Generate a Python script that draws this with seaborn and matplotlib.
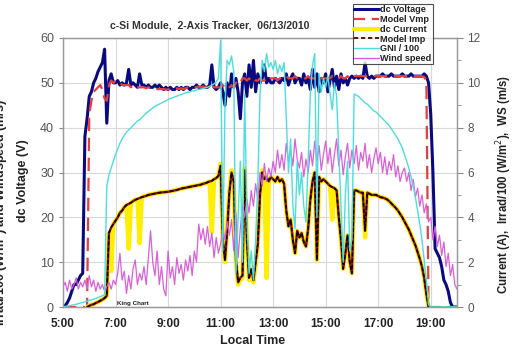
import matplotlib
matplotlib.use("Agg")
import matplotlib.pyplot as plt
import seaborn as sns
import numpy as np
import pandas as pd
from matplotlib.lines import Line2D
from matplotlib.ticker import MultipleLocator, FixedLocator

# ---------------- data (5-minute readings, 5:00 .. 20:00) ----------------
N = None
dc_voltage = [
    0, 0.3, 1, 2, 3.5, 5, 5, 6, 7, 7.5, 38, 42,                       # 5h
    47, 48, 50, 51, 52.5, 53.5, 54.5, 57.5, 41, 50.5, 52, 50,         # 6h
    50, 50.5, 49.5, 50, 49.5, 50, 53, 49.5, 50, 49.5, 49, 52,         # 7h
    49.5, 49.5, 49, 49.5, 49, 49, 49.5, 49, 49.5, 49, 48.5, 49,       # 8h
    48.5, 49, 48.5, 48.5, 49, 48.5, 49, 48.5, 49, 49, 48.5, 49,       # 9h
    49, 49.5, 49, 49, 49.5, 49, 49, 49.5, 54, 49, 48.5, 49,           # 10h
    50, 48, 45, 50, 47, 52, 49, 51, 48, 42, 50, 52,                   # 11h
    47, 54, 49, 55, 48, 52, 50, 51, 54, 50, 51, 50,                   # 12h
    50, 51, 50.5, 50, 51, 50.5, 52, 49.5, 51, 52, 50, 51,             # 13h
    51, 49.5, 52, 50, 51, 48.5, 53, 49, 52, 48, 51, 50,               # 14h
    52, 48, 50.5, 53, 49, 51.5, 48.5, 52, 50, 51, 49.5, 51,           # 15h
    51.5, 51, 51.5, 51, 51.5, 51, 54.5, 51.5, 51, 51.5, 51, 51.5,     # 16h
    51.5, 51.5, 52, 51.5, 51.5, 51.5, 52, 51.5, 51.5, 51.5, 51.5, 52, # 17h
    51.5, 51.5, 51.5, 52, 51.5, 51.5, 51.5, 51.5, 51.5, 52, 51.5, 50, # 18h
    43, 30, 13, 12, 11, 9, 6, 5, 3.5, 1, 0, 0,                        # 19h
    0]
model_vmp = [
    0, 0, 0, 0, 0, 0, 0, 0, 0, 0, 0, 0,
    43, 46, 48, 48.5, 49, 49.5, 48.5, 46.5, 46, 49.5, 50.5, 50,
    50.5, 50, 50, 49.5, 49.5, 49.5, 49.5, 49, 49.5, 49, 49, 49,
    49, 49, 48.8, 49, 48.8, 48.8, 48.8, 48.6, 48.6, 48.6, 48.6, 48.5,
    48.5, 48.7, 48.5, 48.6, 48.8, 48.6, 48.8, 48.6, 48.8, 49, 48.8, 49,
    49, 49, 49.2, 49, 49.2, 49, 49, 49.2, 49.5, 49, 49, 49,
    49, 49.5, 49, 48.5, 49, 49.5, 49, 50, 50.5, 50, 51, 51,
    50.5, 51, 50.5, 51, 50.5, 50.5, 51, 50.5, 50.5, 51, 50.5, 51,
    51, 51, 50.5, 51, 51, 51, 51.5, 51, 51, 51, 51.5, 51,
    51, 51, 51, 51, 51.5, 51, 51, 51, 51.5, 51, 51, 51,
    51, 51, 51, 51.5, 51, 51, 51, 51.5, 51, 51, 51.5, 51,
    51.5, 51.5, 51.5, 51.5, 51.5, 51.5, 51.5, 51.5, 51.5, 51.5, 51.5, 51.5,
    51.5, 51.5, 51.5, 51.5, 51.5, 51.5, 51.5, 51.5, 51.5, 51.5, 51.5, 51.5,
    51.5, 51.5, 51.5, 51.5, 51.5, 51.5, 51.5, 51.5, 51.5, 51.3, 50.5, 0,
    0, 0, 0, 0, 0, 0, 0, 0, 0, 0, 0, 0,
    0]
dc_current = [
    N, N, N, N, N, N, N, N, N, N, N, 0,
    0.05, 0.1, 0.12, 0.18, 0.22, 0.28, 0.33, 0.4, 0.5, 3.3, 1.6, 3.7,
    3.85, 4.0, 4.2, 4.3, 4.45, 4.55, 2.6, 4.65, 4.72, 4.78, 4.82, 2.85,
    4.9, 4.93, 4.96, 5.0, 5.02, 5.04, 5.06, 5.08, 5.1, 5.11, 5.12, 5.13,
    5.14, 5.16, 5.18, 5.2, 5.22, 5.25, 5.28, 5.3, 5.32, 5.34, 5.36, 5.38,
    5.4, 5.42, 5.44, 5.46, 5.5, 5.52, 5.56, 5.6, 3.35, 5.7, 5.75, 5.85,
    6.4, 3.0, 2.0, 3.5, 5.2, 6.1, 5.6, 2.0, 1.0, 1.2, 1.3, 6.2,
    3.0, 1.2, 1.6, 1.1, 1.9, 2.8, 5.0, 6.1, 5.7, 1.3, 5.6, 5.8,
    5.7, 5.6, 5.8, 5.6, 5.7, 5.5, 4.3, 3.6, 3.9, 3.0, 2.4, 3.4,
    3.1, 3.3, 2.9, 2.7, 3.5, 4.8, 5.6, 6.0, 2.1, 5.8, 5.6, 5.7,
    5.6, 5.5, 5.4, 3.9, 5.3, 5.2, 4.0, 3.0, 1.7, 2.4, 3.2, 2.0,
    1.5, 5.2, 5.2, 5.15, 5.1, 5.1, 3.1, 5.1, 5.05, 5.0, 5.0, 5.0,
    4.95, 4.9, 4.88, 4.85, 4.8, 4.72, 4.62, 4.52, 4.42, 4.3, 4.15, 4.0,
    3.82, 3.65, 3.45, 3.22, 3.0, 2.75, 2.45, 2.15, 1.8, 1.3, 0.6, 0.0,
    N, N, N, N, N, N, N, N, N, N, N, N,
    N]
model_imp = [
    N, N, N, N, N, N, N, N, N, N, N, 0,
    0.05, 0.1, 0.12, 0.18, 0.22, 0.28, 0.33, 0.4, 0.5, 3.3, 3.55, 3.7,
    3.85, 4.0, 4.2, 4.3, 4.45, 4.55, 4.6, 4.65, 4.72, 4.78, 4.82, 4.86,
    4.9, 4.93, 4.96, 5.0, 5.02, 5.04, 5.06, 5.08, 5.1, 5.11, 5.12, 5.13,
    5.14, 5.16, 5.18, 5.2, 5.22, 5.25, 5.28, 5.3, 5.32, 5.34, 5.36, 5.38,
    5.4, 5.42, 5.44, 5.46, 5.5, 5.52, 5.56, 5.6, 5.63, 5.7, 5.75, 5.85,
    6.3, 3.0, 2.1, 3.4, 5.1, 6.0, 5.6, 2.1, 1.1, 1.3, 1.4, 6.1,
    3.0, 1.3, 1.7, 1.2, 2.0, 2.8, 5.0, 6.0, 5.7, 5.8, 5.6, 5.8,
    5.7, 5.6, 5.8, 5.6, 5.7, 5.5, 4.3, 3.6, 3.9, 3.0, 2.4, 3.4,
    3.1, 3.3, 2.9, 2.7, 3.5, 4.8, 5.6, 6.0, 2.1, 5.8, 5.6, 5.7,
    5.6, 5.5, 5.4, 5.35, 5.3, 5.2, 4.0, 3.0, 1.7, 2.4, 3.2, 2.0,
    1.5, 5.2, 5.2, 5.15, 5.1, 5.1, 3.4, 5.1, 5.05, 5.0, 5.0, 5.0,
    4.95, 4.9, 4.88, 4.85, 4.8, 4.72, 4.62, 4.52, 4.42, 4.3, 4.15, 4.0,
    3.82, 3.65, 3.45, 3.22, 3.0, 2.75, 2.45, 2.15, 1.8, 1.3, 0.6, 0.0,
    N, N, N, N, N, N, N, N, N, N, N, N,
    N]
model_green = [
    N, N, N, N, N, N, N, N, N, N, N, 0,
    0.05, 0.1, 0.12, 0.18, 0.22, 0.28, 0.33, 0.4, 0.5, 3.3, 3.55, 3.7,
    3.85, 4.0, 4.2, 4.3, 4.45, 4.55, 4.6, 4.65, 4.72, 4.78, 4.82, 4.86,
    4.9, 4.93, 4.96, 5.0, 5.02, 5.04, 5.06, 5.08, 5.1, 5.11, 5.12, 5.13,
    5.14, 5.16, 5.18, 5.2, 5.22, 5.25, 5.28, 5.3, 5.32, 5.34, 5.36, 5.38,
    5.4, 5.42, 5.44, 5.46, 5.5, 5.52, 5.56, 5.6, 5.63, 5.7, 5.75, 5.85,
    6.3, 3.0, 2.1, 3.4, 5.1, 6.0, 5.6, 2.1, 1.1, 1.3, 1.4, 6.1,
    3.0, 1.3, 1.7, 1.2, 2.0, 2.8, 5.0, 6.0, 5.7, 5.8, 5.6, 5.8,
    5.7, 5.6, 5.8, 5.6, 5.7, 5.5, 4.3, 3.6, 3.9, 3.0, 2.4, 3.4,
    3.1, 3.3, 2.9, 2.7, 3.5, 4.8, 5.6, 6.0, 2.1, 5.8, 5.6, 5.7,
    5.6, 5.5, 5.4, 5.35, 5.3, 5.2, 4.0, 3.0, 1.7, 2.4, 3.2, 2.0,
    1.5, 5.2, 5.2, 5.15, 5.1, 5.1, 3.4, 5.1, 5.05, 5.0, 5.0, 5.0,
    4.95, 4.9, 4.88, 4.85, 4.8, 4.72, 4.62, 4.52, 4.42, 4.3, 4.15, 4.0,
    3.82, 3.65, 3.45, 3.22, 3.0, 2.75, 2.45, 2.15, 1.8, 1.3, 0.6, 0.0,
    0, 0, 0, 0, 0, 0, 0, 0, 0, 0, 0, 0,
    0]
gni_100 = [
    0, 0.02, 0.04, 0.06, 0.08, 0.1, 0.12, 0.15, 0.18, 0.2, 0.23, 0.26,
    0.3, 0.32, 0.35, 0.38, 0.42, 0.46, 0.5, 0.55, 5.4, 5.9, 6.2, 6.5,
    6.8, 7.05, 7.3, 7.5, 7.65, 7.8, 7.9, 8.0, 8.1, 8.2, 8.3, 8.35,
    8.45, 8.55, 8.65, 8.72, 8.8, 8.88, 8.95, 9.0, 9.05, 9.1, 9.15, 9.2,
    9.25, 9.3, 9.33, 9.37, 9.4, 9.45, 9.48, 9.52, 9.55, 9.58, 9.6, 9.63,
    9.65, 9.68, 9.7, 9.72, 9.75, 9.78, 9.8, 9.85, 9.9, 9.95, 10.05, 10.2,
    11.9, 2.5, 9.0, 11.0, 10.8, 11.2, 10.5, 1.5, 4.0, 6.5, 2.0, 9.5,
    4.0, 1.5, 2.5, 1.2, 3.0, 5.5, 9.5, 11.0, 10.5, 11.3, 10.7, 10.9,
    10.6, 11.0, 10.4, 10.8, 10.5, 10.9, 8.5, 6.0, 7.5, 4.5, 3.5, 6.5,
    5.0, 6.0, 4.5, 3.8, 6.5, 9.5, 10.8, 11.3, 4.0, 10.4, 9.6, 10.2,
    9.8, 10.3, 9.5, 8.8, 10.0, 9.4, 7.0, 4.5, 2.0, 5.0, 6.5, 2.5,
    3.0, 9.5, 9.45, 9.4, 9.3, 9.2, 9.1, 9.05, 8.95, 8.85, 8.75, 8.7,
    8.6, 8.5, 8.4, 8.3, 8.2, 8.1, 7.95, 7.8, 7.65, 7.5, 7.3, 7.1,
    6.8, 6.5, 6.2, 5.8, 5.4, 4.9, 4.3, 3.7, 3.0, 2.1, 1.2, 0.1,
    0, 0, 0, 0, 0, 0, 0, 0, 0, 0, 0, 0,
    0]
wind_speed = [
    0.9, 1.1, 0.7, 1.2, 0.8, 1.0, 1.3, 0.8, 1.1, 0.9, 1.2, 0.8,
    1.4, 0.9, 1.2, 0.7, 1.1, 0.8, 1.0, 0.7, 0.9, 1.1, 0.8, 1.2,
    1.0, 1.5, 2.4, 1.2, 1.6, 0.6, 1.4, 0.8, 1.7, 2.1, 1.0, 1.5,
    1.2, 1.8, 1.0, 2.2, 3.4, 2.0, 1.4, 2.5, 1.0, 1.8, 0.8, 0.5,
    2.5, 1.3, 1.8, 1.0, 2.2, 1.5, 1.9, 1.2, 2.1, 1.6, 2.3, 1.4,
    2.5, 2.0, 3.7, 3.0, 3.5, 2.8, 3.6, 2.7, 3.3, 2.2, 3.1, 2.4,
    2.8, 3.5, 3.0, 3.8, 3.2, 3.9, 2.5, 4.2, 2.2, 3.5, 4.5, 4.0,
    4.8, 4.2, 5.2, 4.5, 5.5, 4.8, 6.0, 5.4, 6.4, 5.6, 6.2, 5.8,
    6.5, 6.0, 7.0, 6.2, 6.8, 6.1, 7.3, 6.5, 7.0, 6.3, 7.5, 6.6,
    6.2, 6.9, 5.8, 6.6, 6.0, 7.0, 6.3, 7.4, 6.5, 7.2, 6.1, 6.8,
    7.4, 6.4, 7.1, 6.0, 6.8, 7.5, 6.3, 7.0, 5.9, 6.7, 7.3, 6.2,
    7.0, 6.4, 7.2, 6.1, 6.9, 6.5, 7.3, 6.2, 6.8, 6.0, 6.6, 7.1,
    6.4, 6.9, 6.0, 6.7, 5.9, 6.5, 6.1, 6.8, 5.8, 6.3, 5.6, 6.0,
    6.2, 5.6, 6.0, 5.2, 5.7, 4.9, 5.3, 4.5, 5.0, 4.2, 4.6, 3.8,
    4.0, 3.0, 3.6, 2.7, 3.2, 2.3, 2.9, 1.8, 2.4, 1.4, 1.9, 1.0,
    0.8]
minutes = list(range(0, 15 * 60 + 1, 5))          # minutes after 5:00
hour_ticks = [5, 7, 9, 11, 13, 15, 17, 19]
hour_labels = ["5:00", "7:00", "9:00", "11:00", "13:00", "15:00", "17:00", "19:00"]

df = pd.DataFrame({
    "t": [5 + m / 60 for m in minutes],
    "volt": dc_voltage, "vmp": model_vmp, "cur": dc_current,
    "imp": model_imp, "green": model_green, "gni": gni_100, "ws": wind_speed,
}).astype(float)

# ---------------- style ----------------
sns.set_style("white")
plt.rcParams['font.family'] = ['Liberation Sans', 'DejaVu Sans']

fig = plt.figure(figsize=(5.15, 3.48), dpi=100)
ax = fig.add_axes([63 / 515, 1 - 307 / 348, 394 / 515, 269 / 348])
ax2 = ax.twinx()

C_VOLT = "#0a0a80"
C_VMP = "#e04040"
C_CUR = "#ffee00"
C_IMP = "#8b1a00"
C_GNI = "#4cdede"
C_WS = "#d860d8"

# primary axis: voltages
sns.lineplot(data=df, x="t", y="volt", ax=ax, color=C_VOLT, lw=2.2, estimator=None)
sns.lineplot(data=df, x="t", y="vmp", ax=ax, color=C_VMP, lw=1.6, estimator=None,
             linestyle=(0, (6, 3)))

# secondary axis: currents, irradiance, wind
sns.lineplot(data=df, x="t", y="cur", ax=ax2, color=C_CUR, lw=3.2, estimator=None)
sns.lineplot(data=df, x="t", y="green", ax=ax2, color="#33c33c", lw=1.0, estimator=None,
             linestyle=(1.5, (2.5, 1.5)))
sns.lineplot(data=df, x="t", y="imp", ax=ax2, color=C_IMP, lw=1.7, estimator=None)
sns.lineplot(data=df, x="t", y="imp", ax=ax2, color="black", lw=1.1, estimator=None,
             linestyle=(0, (2.5, 1.5)))
sns.lineplot(data=df, x="t", y="ws", ax=ax2, color=C_WS, lw=0.9, estimator=None)
sns.lineplot(data=df, x="t", y="gni", ax=ax2, color=C_GNI, lw=1.0, estimator=None)

# axes limits and ticks
ax.set_xlim(5, 20)
ax.set_ylim(0, 60)
ax2.set_ylim(0, 12)
ax.xaxis.set_major_locator(FixedLocator(hour_ticks))
ax.set_xticklabels(hour_labels)
ax.xaxis.set_minor_locator(MultipleLocator(1))
ax.yaxis.set_major_locator(MultipleLocator(10))
ax2.yaxis.set_major_locator(MultipleLocator(2))
ax2.yaxis.set_minor_locator(MultipleLocator(1))

ax.grid(True, which="major", color="#d9d9d9", lw=0.8)
ax.set_axisbelow(True)
ax2.grid(False)

for a in (ax, ax2):
    for s in a.spines.values():
        s.set_color("#9a9a9a")
        s.set_linewidth(0.9)
ax.tick_params(axis="both", which="both", direction="out", color="#8a8a8a")
ax.tick_params(axis="x", which="major", length=4, labelsize=8.5, pad=4,
               labelcolor="#222222")
ax.tick_params(axis="x", which="minor", length=3)
ax.tick_params(axis="y", length=3, labelsize=9, labelcolor="#555555")
ax2.tick_params(axis="y", which="both", direction="out", color="#8a8a8a",
                labelsize=8.5, labelcolor="#555555")
ax2.tick_params(axis="y", which="major", length=4)
ax2.tick_params(axis="y", which="minor", length=3)
for lab in ax.get_xticklabels():
    lab.set_fontweight("bold")

ax.set_xlabel("Local Time", fontsize=9, fontweight="bold", color="#222222")
ax.xaxis.set_label_coords(0.48, -0.105)
ax.set_ylabel("dc Voltage (V)", fontsize=9, fontweight="bold", color="#222222")
ax.yaxis.set_label_coords(-0.086, 0.47)
ax2.set_ylabel("Current (A),  Irrad/100 (W/m$^2$),  WS (m/s)", fontsize=8.3,
               fontweight="bold", color="#222222", rotation=90)
ax2.yaxis.set_label_coords(1.095, 0.455)

fig.text(0.003, 0.39, "Irrad/100 (W/m$^2$) and Windspeed (m/s)", rotation=90,
         fontsize=9, fontweight="bold", ha="center", va="center", color="#222222")
fig.text(210 / 515, 1 - 25 / 348, "c-Si Module,  2-Axis Tracker,  06/13/2010",
         fontsize=7.6, fontweight="bold", ha="center", va="center", color="#333333")
fig.text(133 / 515, 1 - 303 / 348, "King Chart", fontsize=4.5, fontweight="bold",
         ha="center", va="center", color="#222222")

handles = [
    Line2D([], [], color=C_VOLT, lw=2.2),
    Line2D([], [], color=C_VMP, lw=1.6, linestyle=(0, (5, 3))),
    Line2D([], [], color=C_CUR, lw=3.0),
    Line2D([], [], color="#5a1800", lw=1.4, linestyle=(0, (2.2, 1.4))),
    Line2D([], [], color=C_GNI, lw=1.0),
    Line2D([], [], color=C_WS, lw=1.0),
]
labels = ["dc Voltage", "Model Vmp", "dc Current", "Model Imp", "GNI / 100", "Wind speed"]
leg = fig.legend(handles, labels, loc="upper left",
                 bbox_to_anchor=(353 / 515, 1 - 4 / 348), bbox_transform=fig.transFigure,
                 frameon=True, fancybox=False, handlelength=2.7,
                 handletextpad=0.15, labelspacing=0.08, borderpad=0.15, borderaxespad=0,
                 prop={"weight": "bold", "size": 6.6})
leg.get_frame().set_edgecolor("#222222")
leg.get_frame().set_linewidth(0.8)
for t in leg.get_texts():
    t.set_color("#222222")

fig.savefig("out.png", dpi=100)
